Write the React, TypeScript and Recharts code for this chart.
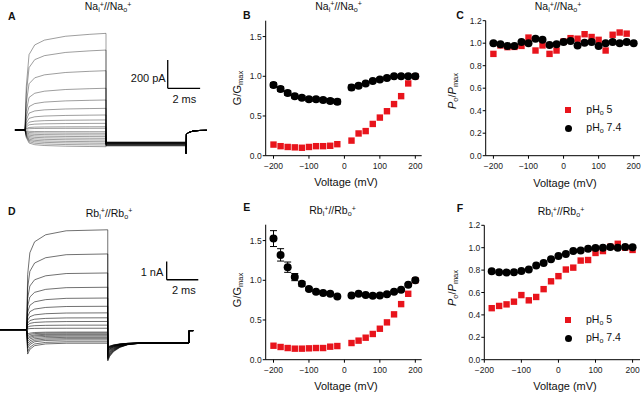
import React from 'react';
import { LineChart, Line, XAxis, YAxis, ScatterChart, Scatter, ErrorBar, ReferenceLine } from 'recharts';

const FONT = '"Liberation Sans", Arial, sans-serif';
const RED = '#e8141c';

// ---- B: Na/Na, G/Gmax ----
const bBlackV = [-200, -180, -160, -140, -120, -100, -80, -60, -40, -20, 20, 40, 60, 80, 100, 120, 140, 160, 180, 200];
const bBlack = [0.89, 0.84, 0.79, 0.75, 0.73, 0.71, 0.71, 0.7, 0.69, 0.68, 0.86, 0.88, 0.91, 0.94, 0.96, 0.98, 1.0, 1.0, 1.0, 1.0];
const bBlackErr = [0.03, 0.03, 0.03, 0.025, 0.025, 0.025, 0.025, 0.025, 0.03, 0.03, 0.03, 0.025, 0.02, 0.02, 0.02, 0.02, 0.015, 0.015, 0.01, 0.01];
const bRed = [0.14, 0.12, 0.11, 0.105, 0.1, 0.11, 0.12, 0.12, 0.125, 0.145, 0.19, 0.28, 0.31, 0.4, 0.48, 0.56, 0.65, 0.75, 0.91, 1.0];

// ---- C: Na/Na, Po/Pmax ----
const cBlackV = [-200, -180, -160, -140, -120, -100, -80, -60, -40, -20, 0, 20, 40, 60, 80, 100, 120, 140, 160, 180, 200];
const cBlack = [1.0, 0.99, 0.975, 0.975, 1.01, 1.0, 1.04, 1.03, 0.985, 0.99, 1.01, 1.02, 0.98, 1.005, 1.01, 0.975, 1.0, 1.01, 1.0, 1.01, 1.0];
const cRedV = [-200, -180, -160, -140, -120, -100, -80, -60, -40, -20, 0, 20, 40, 60, 80, 100, 120, 140, 160, 180];
const cRed = [0.905, 0.98, 0.965, 0.967, 0.976, 1.05, 0.935, 0.98, 0.905, 0.935, 1.015, 1.045, 1.04, 1.08, 1.055, 1.03, 0.935, 1.075, 1.095, 1.085];

// ---- E: Rb/Rb, G/Gmax ----
const eBlack = [1.525, 1.32, 1.165, 1.04, 0.955, 0.89, 0.855, 0.84, 0.83, 0.795, 0.81, 0.83, 0.815, 0.805, 0.81, 0.825, 0.855, 0.88, 0.945, 1.0];
const eBlackErr = [0.1, 0.078, 0.065, 0.045, 0.03, 0.02, 0.015, 0.015, 0.015, 0.015, 0.015, 0.015, 0.015, 0.015, 0.015, 0.015, 0.015, 0.015, 0.015, 0.015];
const eRed = [0.176, 0.16, 0.147, 0.139, 0.139, 0.143, 0.147, 0.147, 0.164, 0.172, 0.21, 0.24, 0.277, 0.324, 0.39, 0.47, 0.571, 0.7, 0.83, 1.0];

// ---- F: Rb/Rb, Po/Pmax ----
const fV = [-180, -160, -140, -120, -100, -80, -60, -40, -20, 0, 20, 40, 60, 80, 100, 120, 140, 160, 180, 200];
const fBlack = [0.79, 0.78, 0.778, 0.78, 0.793, 0.805, 0.84, 0.864, 0.896, 0.926, 0.944, 0.97, 0.976, 0.99, 0.997, 1.0, 1.006, 1.0, 1.006, 1.003];
const fRed = [0.46, 0.48, 0.494, 0.518, 0.577, 0.53, 0.56, 0.63, 0.7, 0.746, 0.805, 0.822, 0.885, 0.89, 0.953, 0.97, 1.009, 1.035, 1.0, 0.98];

// ---- A: Na traces (pA), steps +200 ... -200 mV ----
const naHoldT = [-0.62, 0];
const naRiseT = [0, 0.08, 0.25, 0.6, 1.2, 2.5, 4, 5.0];
const naRiseFrac = [0, 0.45, 0.78, 0.88, 0.93, 0.97, 0.99, 1.0];
const naSteady = [683, 565, 419, 295, 212, 153, 106, 71, 47, 23, 12, -12, -23, -35, -47, -59, -71, -83, -94, -106, -118];
const naTail = [-113, -110, -109, -106, -105, -102, -101, -99, -98, -96, -96, -94, -93, -92, -91, -90, -89, -88, -88, -87, -85];
const naOffT = [9.92, 9.94, 9.96, 10.1, 10.35, 10.8, 11.23];
const naOffI = [0, -165, -30, -18, -8, -3, -2];

// ---- D: Rb traces (nA) ----
const rbHoldT = [-1.69, 0];
const rbRiseT = [0, 0.06, 0.2, 0.5, 1.2, 2.5, 5.13];
const rbRiseFrac = [0, 0.55, 0.77, 0.88, 0.95, 0.99, 1.0];
const rbInactFrac = [0, 1.8, 1.45, 1.18, 1.05, 1.0, 1.0];
const rbSteady = [5.46, 4.14, 3.1, 2.32, 1.73, 1.28, 0.92, 0.65, 0.45, 0.25, 0.08, -0.13, -0.18, -0.24, -0.29, -0.35, -0.42, -0.49, -0.56, -0.66, -0.74];
const rbTailPeak = [-1.71, -1.65, -1.6, -1.55, -1.5, -1.45, -1.4, -1.35, -1.3, -1.25, -1.2, -1.17, -1.14, -1.11, -1.08, -1.05, -1.03, -1.01, -0.99, -0.97, -0.95];
const rbTailT = [5.13, 5.25, 5.5, 5.9, 6.4, 7.2, 10.27];
const rbTailFrac = [1, 0.75, 0.48, 0.25, 0.1, 0.02, 0];
const rbTailLevel = -0.72;
const rbOffT = [10.27, 10.28, 10.54];
const rbOffI = [-0.72, -0.05, -0.05];

const naTraces = naSteady.map((s, k) => [
  ...naHoldT.map((t) => ({ t, c: 0 })),
  ...naRiseT.map((t, j) => ({ t, c: s * naRiseFrac[j] })),
  { t: 5.0, c: naTail[k] },
  ...naOffT.map((t, j) => ({ t, c: j === 0 ? naTail[k] : naOffI[j] })),
]);

const rbTraces = rbSteady.map((s, k) => {
  const prof = s >= 0 ? rbRiseFrac : rbInactFrac;
  return [
    ...rbHoldT.map((t) => ({ t, c: 0 })),
    ...rbRiseT.map((t, j) => ({ t, c: s * prof[j] })),
    ...rbTailT.map((t, j) => ({ t, c: rbTailLevel + (rbTailPeak[k] - rbTailLevel) * rbTailFrac[j] })),
    ...rbOffT.map((t, j) => ({ t, c: rbOffI[j] })),
  ];
});

const rows = (vs: number[], ys: number[], es?: number[]) =>
  vs.map((v, i) => ({ v, y: ys[i], e: es ? es[i] : 0 }));

const xTick = (v: number) => (v < 0 ? `\u2212${-v}` : `${v}`);
const yTick = (v: number) => v.toFixed(1);
const tickStyle = { fill: '#222', fontSize: 8.5, fontFamily: FONT };

const Square = (p: any) => <rect x={p.cx - 3.2} y={p.cy - 3.2} width={6.4} height={6.4} fill={RED} />;
const Dot = (p: any) => <circle cx={p.cx} cy={p.cy} r={4} fill="#000" />;

const Sub = ({ children }: any) => (
  <span style={{ fontSize: '0.68em', position: 'relative', top: '0.3em' }}>{children}</span>
);
const Sup = ({ children }: any) => (
  <span style={{ fontSize: '0.68em', position: 'relative', top: '-0.45em' }}>{children}</span>
);

const T = ({ x, y, a = 'c', size = 11, bold = false, rot = false, children }: any) => (
  <div
    style={{
      position: 'absolute',
      left: x,
      top: y,
      transform: `translate(${a === 'c' ? '-50%' : a === 'r' ? '-100%' : '0'}, -50%)${rot ? ' rotate(-90deg)' : ''}`,
      fontSize: size,
      fontWeight: bold ? 'bold' : 'normal',
      whiteSpace: 'nowrap',
      lineHeight: 1,
      fontFamily: FONT,
      color: '#111',
    }}
  >
    {children}
  </div>
);

type PanelProps = {
  left: number;
  top: number;
  width: number;
  height: number;
  margin: { top: number; right: number; bottom: number; left: number };
  yWidth: number;
  xDomain: [number, number];
  yDomain: [number, number];
  yTicks: number[];
  red: any[];
  black: any[];
  errors?: boolean;
};

function ScatterPanel(p: PanelProps) {
  return (
    <div style={{ position: 'absolute', left: p.left, top: p.top }}>
      <ScatterChart width={p.width} height={p.height} margin={p.margin}>
        <XAxis
          type="number"
          dataKey="v"
          domain={p.xDomain}
          allowDataOverflow
          ticks={[-200, -100, 0, 100, 200]}
          tickFormatter={xTick}
          tick={tickStyle}
          tickSize={3}
          tickMargin={4}
          height={30}
          stroke="#000"
        />
        <YAxis
          type="number"
          dataKey="y"
          domain={p.yDomain}
          allowDataOverflow
          ticks={p.yTicks}
          tickFormatter={yTick}
          tick={tickStyle}
          tickSize={3}
          tickMargin={1}
          width={p.yWidth}
          stroke="#000"
        />
        <Scatter data={p.red} shape={Square} isAnimationActive={false} />
        <Scatter data={p.black} shape={Dot} isAnimationActive={false}>
          {p.errors && <ErrorBar dataKey="e" direction="y" width={3.5} stroke="#000" strokeWidth={1} />}
        </Scatter>
      </ScatterChart>
    </div>
  );
}

type Bar = { x1: number; y1: number; x2: number; y2: number };

function TracePanel({ left, top, xDomain, yDomain, traces, stroke, opacity, bars }: any) {
  return (
    <div style={{ position: 'absolute', left, top }}>
      <LineChart width={215} height={200} margin={{ top: 0, right: 0, bottom: 0, left: 0 }}>
        <XAxis type="number" dataKey="t" domain={xDomain} allowDataOverflow hide />
        <YAxis type="number" domain={yDomain} allowDataOverflow hide />
        {traces.map((d: any[], i: number) => (
          <Line
            key={i}
            data={d}
            dataKey="c"
            stroke={stroke}
            strokeOpacity={opacity}
            strokeWidth={0.7}
            dot={false}
            activeDot={false}
            isAnimationActive={false}
          />
        ))}
        {bars.map((b: Bar, i: number) => (
          <ReferenceLine
            key={`bar-${i}`}
            segment={[
              { x: b.x1, y: b.y1 },
              { x: b.x2, y: b.y2 },
            ]}
            stroke="#000"
            strokeWidth={1.3}
          />
        ))}
      </LineChart>
    </div>
  );
}

const Legend = ({ x, y }: any) => (
  <>
    <div style={{ position: 'absolute', left: x - 3, top: y - 3, width: 6, height: 6, background: RED }} />
    <div style={{ position: 'absolute', left: x - 3.5, top: y + 18.3 - 3.5, width: 7, height: 7, borderRadius: '50%', background: '#000' }} />
    <T x={x + 18} y={y} a="l" size={10.5}>
      pH<Sub>o</Sub> 5
    </T>
    <T x={x + 18} y={y + 18.3} a="l" size={10.5}>
      pH<Sub>o</Sub> 7.4
    </T>
  </>
);

const NaTitle = () => (
  <>
    Na<Sub>i</Sub>
    <Sup>+</Sup>//Na<Sub>o</Sub>
    <Sup>+</Sup>
  </>
);
const RbTitle = () => (
  <>
    Rb<Sub>i</Sub>
    <Sup>+</Sup>//Rb<Sub>o</Sub>
    <Sup>+</Sup>
  </>
);

export default function App() {
  return (
    <div style={{ position: 'absolute', left: 0, top: 0, width: 641, height: 393, background: '#fff', overflow: 'hidden' }}>
      <TracePanel
        left={0}
        top={0}
        xDomain={[-1.543, 11.728]}
        yDomain={[-494.7, 918.7]}
        traces={naTraces}
        stroke="#000"
        opacity={0.55}
        bars={[
          { x1: 8.81, y1: 294.7, x2: 8.81, y2: 494.7 },
          { x1: 8.81, y1: 294.7, x2: 10.81, y2: 294.7 },
        ]}
      />
      <TracePanel
        left={0}
        top={193}
        xDomain={[-1.69, 11.918]}
        yDomain={[-3.459, 7.47]}
        traces={rbTraces}
        stroke="#000"
        opacity={0.8}
        bars={[
          { x1: 8.86, y1: 2.73, x2: 8.86, y2: 3.73 },
          { x1: 8.86, y1: 2.73, x2: 10.86, y2: 2.73 },
        ]}
      />

      <ScatterPanel
        left={215}
        top={0}
        width={215}
        height={200}
        margin={{ top: 20.7, right: 8.3, bottom: 14.3, left: 0 }}
        yWidth={50.7}
        xDomain={[-222, 218]}
        yDomain={[0, 1.7]}
        yTicks={[0, 0.5, 1, 1.5]}
        red={rows(bBlackV, bRed)}
        black={rows(bBlackV, bBlack, bBlackErr)}
        errors
      />
      <ScatterPanel
        left={430}
        top={0}
        width={211}
        height={200}
        margin={{ top: 20.7, right: 1, bottom: 14.3, left: 0 }}
        yWidth={55.7}
        xDomain={[-222, 218]}
        yDomain={[0, 1.2]}
        yTicks={[0, 0.2, 0.4, 0.6, 0.8, 1, 1.2]}
        red={rows(cRedV, cRed)}
        black={rows(cBlackV, cBlack)}
      />
      <ScatterPanel
        left={215}
        top={193}
        width={215}
        height={200}
        margin={{ top: 31.7, right: 8.3, bottom: 3.3, left: 0 }}
        yWidth={50.7}
        xDomain={[-222, 218]}
        yDomain={[0, 1.7]}
        yTicks={[0, 0.5, 1, 1.5]}
        red={rows(bBlackV, eRed)}
        black={rows(bBlackV, eBlack, eBlackErr)}
        errors
      />
      <ScatterPanel
        left={430}
        top={193}
        width={211}
        height={200}
        margin={{ top: 32.3, right: 1, bottom: 3.3, left: 0 }}
        yWidth={54.3}
        xDomain={[-200, 220]}
        yDomain={[0, 1.2]}
        yTicks={[0, 0.2, 0.4, 0.6, 0.8, 1, 1.2]}
        red={rows(fV, fRed)}
        black={rows(fV, fBlack)}
      />

      {/* panel letters */}
      <T x={11.7} y={16} bold size={10.5}>A</T>
      <T x={246.7} y={15} bold size={10.5}>B</T>
      <T x={460} y={15} bold size={10.5}>C</T>
      <T x={11.7} y={211.3} bold size={10.5}>D</T>
      <T x={246.7} y={207.3} bold size={10.5}>E</T>
      <T x={460} y={208} bold size={10.5}>F</T>

      {/* titles */}
      <T x={108} y={7.3} size={10.5}><NaTitle /></T>
      <T x={338.5} y={6.7} size={10.5}><NaTitle /></T>
      <T x={558} y={7} size={10.5}><NaTitle /></T>
      <T x={109} y={213.7} size={10.5}><RbTitle /></T>
      <T x={332.5} y={211} size={10.5}><RbTitle /></T>
      <T x={561} y={212} size={10.5}><RbTitle /></T>

      {/* scale bar labels */}
      <T x={165.7} y={78} a="r" size={11}>200 pA</T>
      <T x={184.3} y={98.7} size={11}>2 ms</T>
      <T x={163.3} y={272.3} a="r" size={11}>1 nA</T>
      <T x={183.8} y={289.7} size={11}>2 ms</T>

      {/* axis titles */}
      <T x={236.7} y={88} rot size={11}>G/G<Sub>max</Sub></T>
      <T x={236.7} y={290} rot size={11}>G/G<Sub>max</Sub></T>
      <T x={451.7} y={91} rot size={11}><i>P</i><Sub>o</Sub>/<i>P</i><Sub>max</Sub></T>
      <T x={451.7} y={288} rot size={11}><i>P</i><Sub>o</Sub>/<i>P</i><Sub>max</Sub></T>
      <T x={346} y={182} size={11}>Voltage (mV)</T>
      <T x={565} y={182.7} size={11}>Voltage (mV)</T>
      <T x={346} y={385.7} size={11}>Voltage (mV)</T>
      <T x={565} y={385.7} size={11}>Voltage (mV)</T>

      <Legend x={568.3} y={110} />
      <Legend x={568} y={319.7} />
    </div>
  );
}
